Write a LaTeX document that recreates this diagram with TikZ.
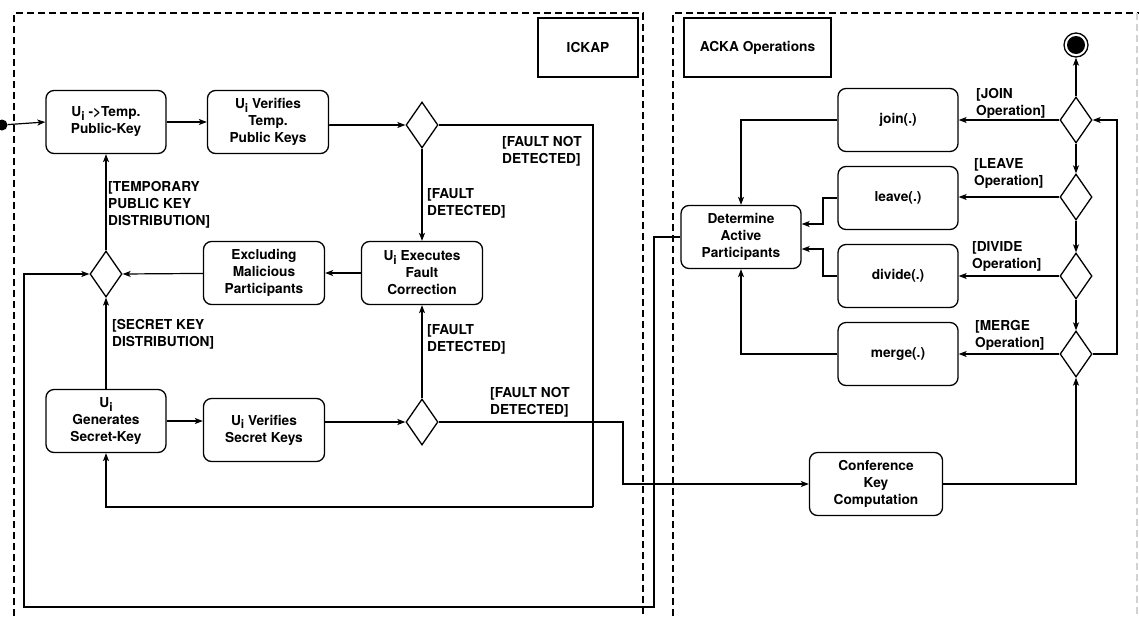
\documentclass[tikz,border=0pt]{standalone}
\usepackage{fontspec}
\setmainfont{TeX Gyre Heros}
\usetikzlibrary{shapes.geometric,arrows.meta}
\newcommand\Usub{U\raisebox{-0.5ex}{\fontsize{12}{12}\selectfont i}}
\tikzset{
  every node/.style={font=\fontsize{13.7}{17}\selectfont\bfseries},
  actbox/.style={draw,line width=1.3pt,rounded corners=8pt,align=center,
    minimum width=120pt,minimum height=63pt,inner sep=0pt},
  titlebox/.style={draw,line width=1.3pt,align=center,minimum height=59pt,inner sep=0pt},
  choice/.style={draw,diamond,line width=1.3pt,minimum width=32pt,minimum height=46pt,inner sep=0pt},
  lbl/.style={anchor=west,align=left,inner sep=0pt},
  arr/.style={line width=1.2pt,-{Stealth[length=8pt,width=6pt,inset=2pt]}},
  ln/.style={line width=1.2pt},
  region/.style={line width=1.3pt,dash pattern=on 7pt off 4pt}
}
\begin{document}
\begin{tikzpicture}[x=1pt,y=-1pt]
\useasboundingbox (0,0) rectangle (1139,616);

% swimlane regions
\draw[region] (14,616) -- (14,13) -- (643,13) -- (643,616);
\draw[region] (673,616) -- (673,13) -- (1139,13);
\draw[region,draw=gray!35] (1137,13) -- (1137,616);
\node[titlebox,minimum width=100pt] (ickap) at (588,47.5) {ICKAP};
\node[titlebox,minimum width=147pt] (acka) at (757.5,47.5) {ACKA Operations};

% ICKAP activities
\node[circle,fill=black,minimum size=11pt,inner sep=0pt] (start) at (2,125) {};
\node[actbox] (tpk) at (106,122) {\Usub{} ->Temp.\\Public-Key};
\node[actbox,minimum width=121pt] (vtpk) at (268,122) {\Usub{} Verifies\\Temp.\\Public Keys};
\node[choice] (d1) at (422,125) {};
\node[actbox,minimum width=121pt] (fc) at (422,273) {\Usub{} Executes\\Fault\\Correction};
\node[actbox,minimum width=121pt] (excl) at (264,273) {Excluding\\Malicious\\Participants};
\node[choice] (d3) at (106,274) {};
\node[actbox] (gen) at (106,421) {\Usub\\Generates\\Secret-Key};
\node[actbox,minimum width=121pt] (vsk) at (264,430) {\Usub{} Verifies\\Secret Keys};
\node[choice] (d2) at (422,422) {};

% ACKA activities
\node[actbox] (det) at (741,237) {Determine\\Active\\Participants};
\node[actbox,minimum width=133pt] (conf) at (876,484) {Conference\\Key\\Computation};
\node[actbox] (join) at (898,120) {join(.)};
\node[actbox] (leave) at (898,198) {leave(.)};
\node[actbox] (divide) at (898,276) {divide(.)};
\node[actbox] (merge) at (898,354) {merge(.)};
\node[choice] (dj) at (1076,120) {};
\node[choice] (dl) at (1076,197) {};
\node[choice] (dd) at (1076,276) {};
\node[choice] (dm) at (1076,354) {};
\node[circle,draw,line width=1.3pt,minimum size=24pt,inner sep=0pt] (final) at (1076,45) {};
\fill (final) circle (9pt);

% helper bend points
\coordinate (r1) at (593,125);
\coordinate (r1b) at (593,507);
\coordinate (r2) at (623,422);
\coordinate (r2b) at (623,484);
\coordinate (bk1) at (654,237);
\coordinate (bk2) at (654,607);
\coordinate (bk3) at (24,607);
\coordinate (cf) at (1076,484);
\coordinate (mg) at (1117,354);
\coordinate (mg2) at (1117,120);
\coordinate (jn) at (741,120);
\coordinate (lv) at (823,224);
\coordinate (dv) at (823,249);
\coordinate (me) at (741,354);

% ICKAP flow
\draw[arr] (start) -- (tpk.west);
\draw[arr] (tpk) -- (vtpk);
\draw[arr] (vtpk) -- (vtpk.east |- d1) -- (d1.west);
\draw[arr] (d1.south) -- (fc.north);
\draw[ln] (d1.east) -- (r1) -- (r1b);
\draw[arr] (r1b) -| (gen.south);
\draw[arr] (fc) -- (excl);
\draw[arr] (excl) -- (d3.east);
\draw[arr] (d3.north) -- (tpk.south);
\draw[arr] (gen.north) -- (d3.south);
\draw[arr] (gen.east) -- (gen.east -| vsk.west);
\draw[arr] (vsk.east |- d2) -- (d2.west);
\draw[arr] (d2.north) -- (fc.south);
\draw[arr] (d2.east) -- (r2) -- (r2b) -- (conf.west);
\draw[arr] (det.west) -- (bk1) -- (bk2) -- (bk3) |- (d3.west);

% ACKA flow
\draw[arr] (conf.east) -- (cf) -- (dm.south);
\draw[arr] (dj.north) -- (final.south);
\draw[arr] (dj.south) -- (dl.north);
\draw[arr] (dl.south) -- (dd.north);
\draw[arr] (dd.south) -- (dm.north);
\draw[arr] (dm.east) -- (mg) -- (mg2) -- (dj.east);
\draw[arr] (dj.west) -- (join.east);
\draw[arr] (dl.west) -- (dl.west -| leave.east);
\draw[arr] (dd.west) -- (divide.east);
\draw[arr] (dm.west) -- (merge.east);
\draw[arr] (join.west) -- (jn) -- (det.north);
\draw[arr] (leave.west) -| (lv) -- (det.east |- lv);
\draw[arr] (divide.west) -| (dv) -- (det.east |- dv);
\draw[arr] (merge.west) -- (me) -- (det.south);

% guard labels
\node[lbl] (g1) at (502,151) {[FAULT NOT\\DETECTED]};
\node[lbl] (g2) at (427,203) {[FAULT\\DETECTED]};
\node[lbl] (g3) at (108,205) {[TEMPORARY\\PUBLIC KEY\\DISTRIBUTION]};
\node[lbl] (g4) at (112,334) {[SECRET KEY\\DISTRIBUTION]};
\node[lbl] (g5) at (427,339) {[FAULT\\DETECTED]};
\node[lbl] (g6) at (490,402) {[FAULT NOT\\DETECTED]};
\node[lbl] (g7) at (976,103) {[JOIN\\Operation]};
\node[lbl] (g8) at (974,173) {[LEAVE\\Operation]};
\node[lbl] (g9) at (972,256) {[DIVIDE\\Operation]};
\node[lbl] (g10) at (975,335) {[MERGE\\Operation]};
\end{tikzpicture}
\end{document}
